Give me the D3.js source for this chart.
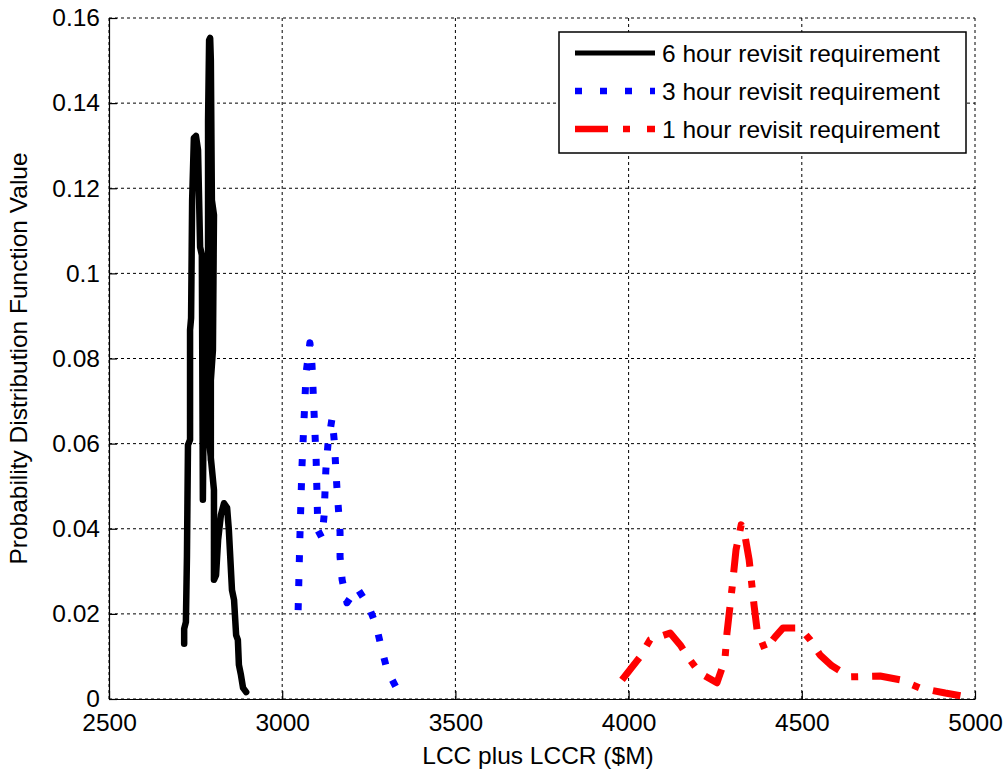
<!DOCTYPE html>
<html>
<head>
<meta charset="utf-8">
<script src="https://cdn.jsdelivr.net/npm/d3@7"></script>
<style>
  body { margin: 0; background: #fff; }
  svg text { font-family: "Liberation Sans", Arial, sans-serif; fill: #000; }
</style>
</head>
<body>
<svg id="chart"></svg>
<script>
// LCC plus LCCR ($M) vs PDF value
const sixHourX = [2717, 2717, 2722, 2725, 2728, 2734, 2734, 2737, 2740, 2745, 2751, 2757, 2763, 2768, 2771,
  2777, 2780, 2786, 2786, 2789, 2792, 2794, 2797, 2803, 2800, 2794, 2794, 2785, 2784, 2790, 2803, 2803,
  2809, 2815, 2823, 2832, 2841, 2846, 2849, 2855, 2861, 2867, 2872, 2875, 2881, 2887, 2896];
const sixHourY = [0.013, 0.0165, 0.0181, 0.0334, 0.0597, 0.0609, 0.0867, 0.0895, 0.1172, 0.1318, 0.1323,
  0.129, 0.1062, 0.1043, 0.0468, 0.1032, 0.0656, 0.1055, 0.136, 0.1548, 0.1553, 0.1501, 0.1172, 0.1137, 0.082,
  0.0749, 0.0562, 0.075, 0.098, 0.06, 0.0491, 0.028, 0.0291, 0.0374, 0.0432, 0.046, 0.0449, 0.0397, 0.035,
  0.0256, 0.0233, 0.015, 0.0139, 0.008, 0.0056, 0.0026, 0.0016];

const threeHourX = [3046, 3051, 3057, 3063, 3069, 3080, 3086, 3092, 3098, 3103, 3115, 3121, 3126, 3132,
  3144, 3150, 3158, 3167, 3167, 3173, 3187, 3216, 3248, 3271, 3285, 3303, 3331];
const threeHourY = [0.0209, 0.0378, 0.0545, 0.0656, 0.0766, 0.0837, 0.0785, 0.0672, 0.0562, 0.0397,
  0.0378, 0.0432, 0.0538, 0.0597, 0.066, 0.0609, 0.0496, 0.0392, 0.0334, 0.028, 0.0226, 0.0261, 0.0221,
  0.0174, 0.0125, 0.0068, 0.0024];

const oneHourX = [3981, 4033, 4062, 4120, 4149, 4177, 4206, 4255, 4278, 4284, 4299, 4310, 4325, 4333,
  4348, 4362, 4371, 4394, 4423, 4446, 4495, 4524, 4553, 4587, 4639, 4726, 4784, 4841, 4914, 4977];
const oneHourY = [0.0045, 0.0099, 0.0139, 0.0155, 0.0127, 0.0092, 0.0061, 0.0038, 0.0092, 0.0155, 0.0263,
  0.035, 0.0409, 0.0397, 0.0327, 0.0221, 0.0162, 0.0115, 0.0146, 0.0167, 0.0167, 0.0139, 0.0103, 0.0078,
  0.0052, 0.0054, 0.0045, 0.0026, 0.0014, 0.0005];

const seriesNames = ["6 hour revisit requirement", "3 hour revisit requirement", "1 hour revisit requirement"];
const xTicks = [2500, 3000, 3500, 4000, 4500, 5000];
const yTicks = [0, 0.02, 0.04, 0.06, 0.08, 0.1, 0.12, 0.14, 0.16];
const yTickLabels = ["0", "0.02", "0.04", "0.06", "0.08", "0.1", "0.12", "0.14", "0.16"];

const W = 1008, H = 772;
const margin = { top: 18, right: 33, bottom: 73, left: 109 };
const width = W - margin.left - margin.right;
const height = H - margin.top - margin.bottom;
const fontSize = "24.5px";

const svg = d3.select("#chart").attr("width", W).attr("height", H);
const g = svg.append("g").attr("transform", `translate(${margin.left},${margin.top})`);

const x = d3.scaleLinear().domain([2500, 5000]).range([0, width]);
const y = d3.scaleLinear().domain([0, 0.16]).range([height, 0]);

// dotted grid
g.append("g").selectAll("line").data(xTicks).join("line")
  .attr("x1", d => x(d)).attr("x2", d => x(d)).attr("y1", 0).attr("y2", height)
  .attr("stroke", "#000").attr("stroke-width", 1).attr("stroke-dasharray", "3,3");
g.append("g").selectAll("line").data(yTicks).join("line")
  .attr("x1", 0).attr("x2", width).attr("y1", d => y(d)).attr("y2", d => y(d))
  .attr("stroke", "#000").attr("stroke-width", 1).attr("stroke-dasharray", "3,3");

// axes (ticks pointing inward like matlab)
const xAxis = d3.axisBottom(x).tickValues(xTicks).tickSize(-8).tickPadding(15).tickSizeOuter(0)
  .tickFormat(d3.format("d"));
const yAxis = d3.axisLeft(y).tickValues(yTicks).tickSize(-8).tickPadding(9).tickSizeOuter(0)
  .tickFormat((d, i) => yTickLabels[i]);

const xg = g.append("g").attr("transform", `translate(0,${height})`).call(xAxis);
const yg = g.append("g").call(yAxis);
[xg, yg].forEach(a => {
  a.selectAll("path").attr("stroke", "#000").attr("stroke-width", 1.2);
  a.selectAll("line").attr("stroke", "#000").attr("stroke-width", 1.2);
  a.selectAll("text").style("font-size", fontSize).style("font-family", "Liberation Sans, Arial, sans-serif");
});
xg.selectAll("text").attr("dy", "0.71em");

// axis titles
svg.append("text")
  .attr("x", margin.left + width / 2 - 4).attr("y", 764)
  .attr("text-anchor", "middle").style("font-size", fontSize)
  .text("LCC plus LCCR ($M)");
svg.append("text")
  .attr("transform", `translate(27,${margin.top + height / 2}) rotate(-90)`)
  .attr("text-anchor", "middle").style("font-size", fontSize)
  .text("Probability Distribution Function Value");

// curves
const line = d3.line().x(d => x(d[0])).y(d => y(d[1]));
const styles = [
  { color: "#000", width: 6.5, dash: null, cap: "round" },
  { color: "#0000ff", width: 7, dash: "7,17", cap: "butt" },
  { color: "#ff0000", width: 7, dash: "28,14,7,14", cap: "butt" }
];
const series = [
  d3.zip(sixHourX, sixHourY),
  d3.zip(threeHourX, threeHourY),
  d3.zip(oneHourX, oneHourY)
];

series.forEach((s, i) => {
  g.append("path").datum(s)
    .attr("d", line)
    .attr("fill", "none")
    .attr("stroke", styles[i].color)
    .attr("stroke-width", styles[i].width)
    .attr("stroke-linecap", styles[i].cap)
    .attr("stroke-linejoin", "round")
    .attr("stroke-dasharray", styles[i].dash);
});

// legend box
const leg = svg.append("g").attr("transform", "translate(559,32)");
leg.append("rect").attr("width", 407).attr("height", 121)
  .attr("fill", "#fff").attr("stroke", "#000").attr("stroke-width", 1.5);
seriesNames.forEach((name, i) => {
  const cy = 21 + i * 38;
  leg.append("line")
    .attr("x1", 16).attr("x2", 96).attr("y1", cy).attr("y2", cy)
    .attr("stroke", styles[i].color)
    .attr("stroke-width", i === 0 ? 5 : 6.5)
    .attr("stroke-dasharray", i === 0 ? null : (i === 1 ? "7,18" : "33,15,7,17"));
  leg.append("text")
    .attr("x", 103).attr("y", cy + 9)
    .style("font-size", fontSize)
    .text(name);
});
</script>
</body>
</html>
